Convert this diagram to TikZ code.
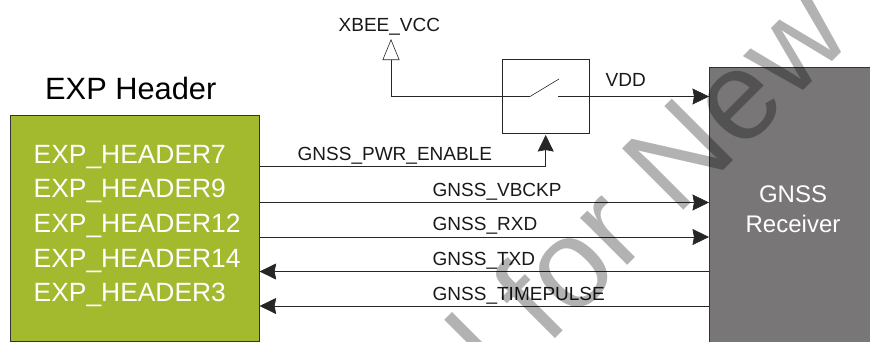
\documentclass[tikz,border=0pt]{standalone}
\usepackage{fontspec}
\setmainfont{Liberation Sans}
\usetikzlibrary{arrows.meta}
\definecolor{hdr}{HTML}{A3B92E}
\definecolor{rcv}{HTML}{787676}
\begin{document}
\begin{tikzpicture}[x=1pt,y=-1pt,
  wire/.style={draw=black!85,line width=0.6pt},
  sig/.style={wire,-{Stealth[length=16.5pt,width=16pt,inset=1.5pt]}},
  lbl/.style={font=\fontsize{19}{19}\selectfont,anchor=base west,inner sep=0,text=black!90},
  hl/.style={font=\fontsize{26.4}{26.4}\selectfont,anchor=base west,inner sep=0,text=white},
  rl/.style={font=\fontsize{24}{24}\selectfont,anchor=base,inner sep=0,text=white}]
\useasboundingbox (0,0) rectangle (870,341);
\node[draw=black!80,fill=hdr,minimum width=249pt,minimum height=226pt,anchor=north west,inner sep=0,line width=.6pt] (hdr) at (10,115) {};
\node[draw=black!80,fill=rcv,minimum width=170pt,minimum height=300pt,anchor=north west,inner sep=0,line width=.6pt] (rcv) at (709,66.5) {};
\node[draw=black!85,minimum width=87pt,minimum height=74pt,anchor=north west,inner sep=0,line width=.6pt] (sw) at (501.5,59) {};
\node[font=\fontsize{30.8}{30.8}\selectfont,anchor=base west,inner sep=0] (title) at (45,99) {EXP Header};
\node[hl] (h7) at (33.5,163) {EXP\_HEADER7};
\node[hl] (h9) at (33.5,197) {EXP\_HEADER9};
\node[hl] (h12) at (33.5,232) {EXP\_HEADER12};
\node[hl] (h14) at (33.5,267) {EXP\_HEADER14};
\node[hl] (h3) at (33.5,301) {EXP\_HEADER3};
\node[rl] (g) at (793,202) {GNSS};
\node[rl] (r) at (793,232) {Receiver};
\node[lbl] (x) at (338.5,31) {XBEE\_VCC};
\node[lbl] (vdd) at (605.5,86) {VDD};
\node[lbl] (l1) at (297.5,160) {GNSS\_PWR\_ENABLE};
\node[lbl] (l2) at (432.5,196) {GNSS\_VBCKP};
\node[lbl] (l3) at (432.5,230.5) {GNSS\_RXD};
\node[lbl] (l4) at (432.5,265) {GNSS\_TXD};
\node[lbl] (l5) at (432.5,300) {GNSS\_TIMEPULSE};
\coordinate (s1) at (530,96.5);
\coordinate (s2) at (557.7,96.5);
\coordinate (sa) at (559,79);
\coordinate (xb) at (391,39);
\draw[wire,-{Triangle[open,fill=white,length=21pt,width=17pt]}] (s1) -- (xb |- s1) -- (xb);
\draw[wire] (s1) -- (sa);
\draw[sig] (s2) -- (rcv.north west |- s2);
\draw[sig] (hdr.east |- 0,166.7) -- (545.7,166.7) -- (545.7,135);
\draw[sig] (hdr.east |- 0,202.5) -- (rcv.west |- 0,202.5);
\draw[sig] (hdr.east |- 0,237) -- (rcv.west |- 0,237);
\draw[sig] (rcv.west |- 0,271.5) -- (hdr.east |- 0,271.5);
\draw[sig] (rcv.west |- 0,306) -- (hdr.east |- 0,306);
\begin{scope}
\clip (0,0) rectangle (870,341);
\node[rotate=45,font=\fontsize{126}{126}\selectfont,text=black,opacity=.3,inner sep=0] (wm) at (632,198) {d for New};
\end{scope}
\end{tikzpicture}
\end{document}
